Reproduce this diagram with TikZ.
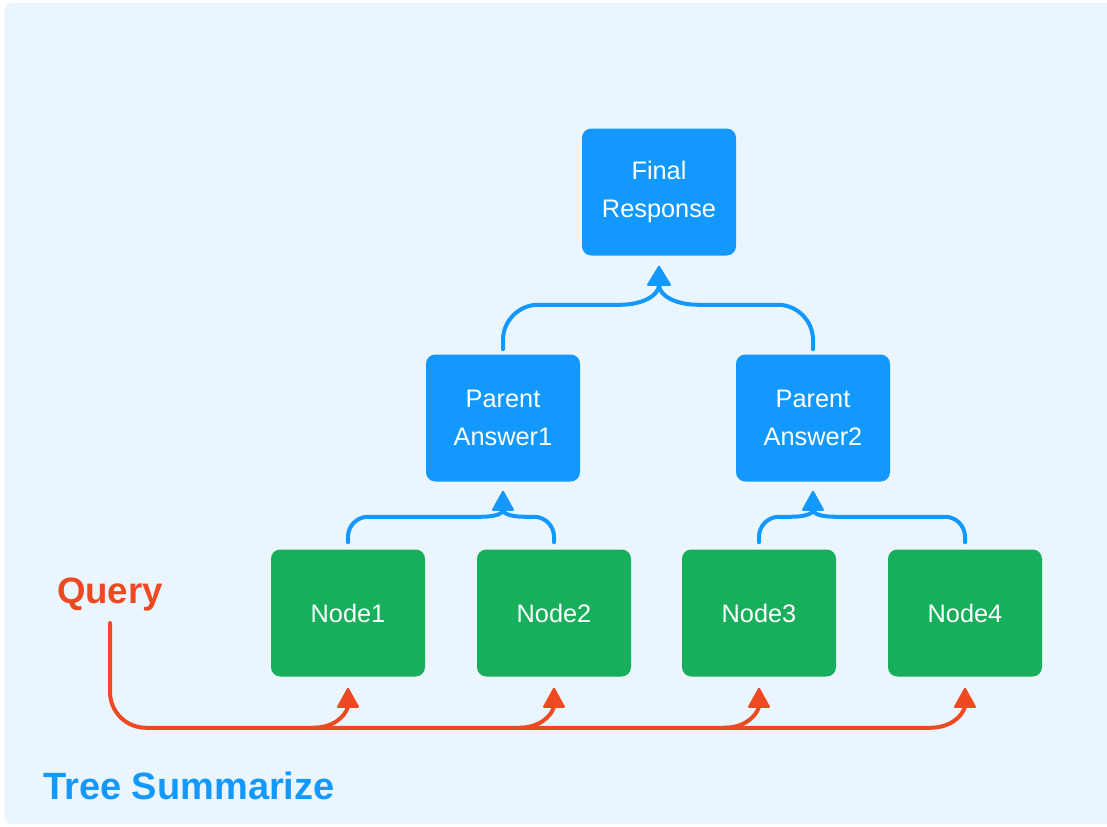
\documentclass[tikz,border=0pt]{standalone}
\usepackage{fontspec}
\setmainfont{Liberation Sans}
\usetikzlibrary{calc}
\definecolor{panelbg}{HTML}{EBF5FE}
\definecolor{tsblue}{HTML}{1399FE}
\definecolor{tsgreen}{HTML}{17AE5C}
\definecolor{tsred}{HTML}{EE4A22}
\begin{document}
\begin{tikzpicture}[x=0.75pt,y=-0.75pt,
  box/.style={rounded corners=7pt, minimum width=115.5pt, minimum height=95.25pt,
    text=white, font=\fontsize{19}{28.5}\selectfont, align=center, inner sep=0pt},
  bluebox/.style={box, fill=tsblue},
  greenbox/.style={box, fill=tsgreen},
  bline/.style={draw=tsblue, line width=3pt, line cap=round, line join=round},
  rline/.style={draw=tsred, line width=3pt, line cap=round, line join=round},
  btip/.style={fill=tsblue, draw=tsblue, line width=1.5pt, line join=round},
  rtip/.style={fill=tsred, draw=tsred, line width=1.5pt, line join=round}
]
% canvas and panel
\clip (0,0) rectangle (1107,826);
\fill[white] (0,0) rectangle (1107,826);
\fill[panelbg, rounded corners=6pt] (4.5,3) rectangle (1140,824);

% tree boxes
\node[bluebox] (fin) at (659,192) {Final\\Response};
\node[bluebox] (pa1) at (503,418) {Parent\\Answer1};
\node[bluebox] (pa2) at (813,418) {Parent\\Answer2};
\node[greenbox] (n1) at (348,613) {Node1};
\node[greenbox] (n2) at (554,613) {Node2};
\node[greenbox] (n3) at (759,613) {Node3};
\node[greenbox] (n4) at (965,613) {Node4};

% labels
\node[anchor=base, text=tsred, font=\bfseries\fontsize{27.5}{30}\selectfont] (query) at (110,603) {Query};
\node[anchor=west, text=tsblue, inner sep=0pt, font=\bfseries\fontsize{28.5}{30}\selectfont] (title) at (43,786) {Tree Summarize};

% parent answers -> final response
\draw[bline] ($(pa1.north)+(0,-5)$) -- ($(pa1.north |- fin.south)+(0,84)$)
  .. controls +(0,-19) and +(-19,0) .. ($(pa1.north |- fin.south)+(35,49)$)
  -- ($(fin.south)+(-39,49)$)
  .. controls +(22,0) and +(0,11) .. ($(fin.south)+(0,29)$);
\draw[bline] ($(pa2.north)+(0,-5)$) -- ($(pa2.north |- fin.south)+(0,84)$)
  .. controls +(0,-19) and +(19,0) .. ($(pa2.north |- fin.south)+(-35,49)$)
  -- ($(fin.south)+(39,49)$)
  .. controls +(-22,0) and +(0,11) .. ($(fin.south)+(0,29)$);
\fill[btip] ($(fin.south)+(0,11)$) -- ++(-11,18) -- ++(22,0) -- cycle;

% leaf nodes -> parent answers
\draw[bline] ($(n1.north)+(0,-7)$) -- ($(n1.north |- pa1.south)+(0,55)$)
  .. controls +(0,-11) and +(-11,0) .. ($(n1.north |- pa1.south)+(20,35)$)
  -- ($(pa1.south)+(-22,35)$)
  .. controls +(14,0) and +(0,4) .. ($(pa1.south)+(0,28)$);
\draw[bline] ($(n2.north)+(0,-7)$) -- ($(n2.north |- pa1.south)+(0,55)$)
  .. controls +(0,-11) and +(11,0) .. ($(n2.north |- pa1.south)+(-20,35)$)
  -- ($(pa1.south)+(22,35)$)
  .. controls +(-14,0) and +(0,4) .. ($(pa1.south)+(0,28)$);
\fill[btip] ($(pa1.south)+(0,10)$) -- ++(-10,18) -- ++(20,0) -- cycle;

\draw[bline] ($(n3.north)+(0,-7)$) -- ($(n3.north |- pa2.south)+(0,55)$)
  .. controls +(0,-11) and +(-11,0) .. ($(n3.north |- pa2.south)+(20,35)$)
  -- ($(pa2.south)+(-22,35)$)
  .. controls +(14,0) and +(0,4) .. ($(pa2.south)+(0,28)$);
\draw[bline] ($(n4.north)+(0,-7)$) -- ($(n4.north |- pa2.south)+(0,55)$)
  .. controls +(0,-11) and +(11,0) .. ($(n4.north |- pa2.south)+(-20,35)$)
  -- ($(pa2.south)+(22,35)$)
  .. controls +(-14,0) and +(0,4) .. ($(pa2.south)+(0,28)$);
\fill[btip] ($(pa2.south)+(0,10)$) -- ++(-10,18) -- ++(20,0) -- cycle;

% query fan-out to the leaf nodes
\draw[rline] ($(query.base)+(0,20)$) -- ($(query.base |- n4.south)+(0,15)$)
  .. controls +(0,20) and +(-20,0) .. ($(query.base |- n4.south)+(36,51)$)
  -- ($(n4.south)+(-35,51)$)
  .. controls +(20,0) and +(-3,10) .. ($(n4.south)+(0,30)$);
\draw[rline] ($(n1.south)+(-35,51)$) .. controls +(20,0) and +(-3,10) .. ($(n1.south)+(0,30)$);
\draw[rline] ($(n2.south)+(-35,51)$) .. controls +(20,0) and +(-3,10) .. ($(n2.south)+(0,30)$);
\draw[rline] ($(n3.south)+(-35,51)$) .. controls +(20,0) and +(-3,10) .. ($(n3.south)+(0,30)$);
\fill[rtip] ($(n1.south)+(0,12)$) -- ++(-10,18) -- ++(20,0) -- cycle;
\fill[rtip] ($(n2.south)+(0,12)$) -- ++(-10,18) -- ++(20,0) -- cycle;
\fill[rtip] ($(n3.south)+(0,12)$) -- ++(-10,18) -- ++(20,0) -- cycle;
\fill[rtip] ($(n4.south)+(0,12)$) -- ++(-10,18) -- ++(20,0) -- cycle;
\end{tikzpicture}
\end{document}
